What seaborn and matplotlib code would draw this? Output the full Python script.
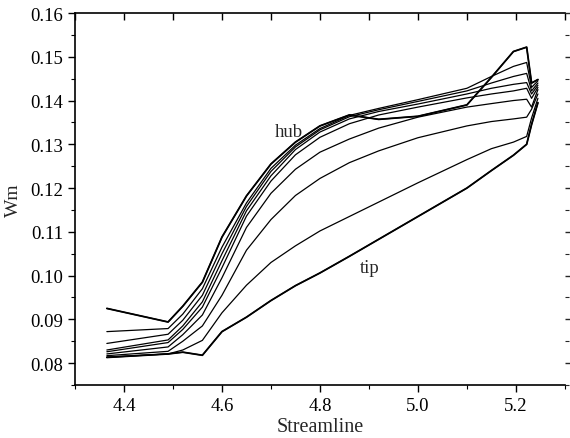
import numpy as np
import pandas as pd
import matplotlib
matplotlib.use("Agg")
import matplotlib.pyplot as plt
from matplotlib.ticker import MultipleLocator, FormatStrFormatter
import seaborn as sns

# streamline coordinate (shared by every curve)
streamline = [4.365, 4.49, 4.52, 4.56, 4.60, 4.65, 4.70, 4.75, 4.80, 4.86,
              4.92, 5.00, 5.10, 5.15, 5.195, 5.222, 5.232, 5.245]

# Wm along each streamline, hub (1) to tip (9)
wm_1 = [0.0925, 0.0894, 0.0930, 0.0985, 0.1088, 0.1182, 0.1255, 0.1305, 0.1342, 0.1367,
        0.1357, 0.1364, 0.1390, 0.1453, 0.1512, 0.1522, 0.1440, 0.1448]
wm_2 = [0.0872, 0.0879, 0.0912, 0.0970, 0.1065, 0.1166, 0.1245, 0.1298, 0.1336, 0.1366,
        0.1382, 0.1402, 0.1428, 0.1455, 0.1478, 0.1487, 0.1430, 0.1445]
wm_3 = [0.0845, 0.0866, 0.0898, 0.0955, 0.1050, 0.1158, 0.1238, 0.1294, 0.1333, 0.1363,
        0.1379, 0.1398, 0.1422, 0.1440, 0.1455, 0.1462, 0.1422, 0.1440]
wm_4 = [0.0830, 0.0853, 0.0885, 0.0940, 0.1034, 0.1148, 0.1228, 0.1288, 0.1328, 0.1358,
        0.1375, 0.1392, 0.1415, 0.1428, 0.1437, 0.1441, 0.1415, 0.1435]
wm_5 = [0.0826, 0.0847, 0.0877, 0.0928, 0.1018, 0.1136, 0.1216, 0.1276, 0.1316, 0.1347,
        0.1367, 0.1385, 0.1406, 0.1415, 0.1422, 0.1428, 0.1405, 0.1430]
wm_6 = [0.0821, 0.0837, 0.0865, 0.0910, 0.0995, 0.1110, 0.1188, 0.1243, 0.1282, 0.1312,
        0.1337, 0.1362, 0.1385, 0.1393, 0.1400, 0.1403, 0.1385, 0.1425]
wm_7 = [0.0817, 0.0827, 0.0850, 0.0885, 0.0955, 0.1058, 0.1128, 0.1183, 0.1222, 0.1258,
        0.1285, 0.1315, 0.1342, 0.1352, 0.1358, 0.1362, 0.1380, 0.1415]
wm_8 = [0.0814, 0.0821, 0.0830, 0.0852, 0.0915, 0.0978, 0.1030, 0.1068, 0.1102, 0.1135,
        0.1168, 0.1212, 0.1265, 0.1290, 0.1305, 0.1318, 0.1360, 0.1405]
wm_9 = [0.0813, 0.0821, 0.0825, 0.0818, 0.0872, 0.0905, 0.0943, 0.0977, 0.1006, 0.1044,
        0.1083, 0.1135, 0.1200, 0.1240, 0.1275, 0.1300, 0.1345, 0.1395]

curves = [wm_1, wm_2, wm_3, wm_4, wm_5, wm_6, wm_7, wm_8, wm_9]
df = pd.concat(
    [pd.DataFrame({"Streamline": streamline, "Wm": w, "line": i}) for i, w in enumerate(curves)],
    ignore_index=True,
)

sns.set_style("ticks")
plt.rcParams["font.family"] = ["Liberation Serif", "DejaVu Serif"]

fig = plt.figure(figsize=(5.7, 4.39), dpi=100)
ax = fig.add_axes([0.1316, 0.1207, 0.8594, 0.8474])

sns.lineplot(data=df, x="Streamline", y="Wm", hue="line", palette=["black"] * 9,
             estimator=None, sort=False, legend=False, linewidth=0.9, ax=ax)
# hub and tip curves look a bit heavier
for w in (wm_1, wm_9):
    sns.lineplot(x=streamline, y=w, color="black", linewidth=1.3, estimator=None,
                 sort=False, ax=ax)

ax.set_xlim(4.3, 5.3)
ax.set_ylim(0.075, 0.16)
ax.xaxis.set_major_locator(MultipleLocator(0.2))
ax.xaxis.set_minor_locator(MultipleLocator(0.1))
ax.yaxis.set_major_locator(MultipleLocator(0.01))
ax.yaxis.set_minor_locator(MultipleLocator(0.005))
ax.xaxis.set_major_formatter(FormatStrFormatter("%.1f"))
ax.yaxis.set_major_formatter(FormatStrFormatter("%.2f"))
ax.tick_params(which="major", direction="out", length=5, width=1, labelsize=13.5,
               pad=3.5, color="black", labelcolor="black")
ax.tick_params(which="minor", direction="out", length=3, width=0.8, color="black")

for side in ("left", "bottom", "top"):
    ax.spines[side].set_linewidth(1.2)
    ax.spines[side].set_color("black")
ax.spines["right"].set_visible(False)

# top: inward ticks every 0.1, no labels
top = ax.secondary_xaxis("top")
top.xaxis.set_major_locator(MultipleLocator(0.1))
top.tick_params(direction="in", length=5, width=1, labeltop=False, color="black")
top.spines["top"].set_visible(False)

# right: outward ticks, no spine
right = ax.secondary_yaxis("right")
right.yaxis.set_major_locator(MultipleLocator(0.01))
right.yaxis.set_minor_locator(MultipleLocator(0.005))
right.tick_params(which="major", direction="out", length=5, width=1, labelright=False)
right.tick_params(which="minor", direction="out", length=3, width=0.8)
right.spines["right"].set_visible(False)

ax.set_xlabel("Streamline", fontsize=14.5, labelpad=2)
ax.set_ylabel("Wm", fontsize=14, labelpad=6)

ax.text(4.737, 0.1330, "hub", fontsize=13.5, ha="center", va="center")
ax.text(4.901, 0.1019, "tip", fontsize=13.5, ha="center", va="center")

fig.savefig("out.png", dpi=100, facecolor="white")
